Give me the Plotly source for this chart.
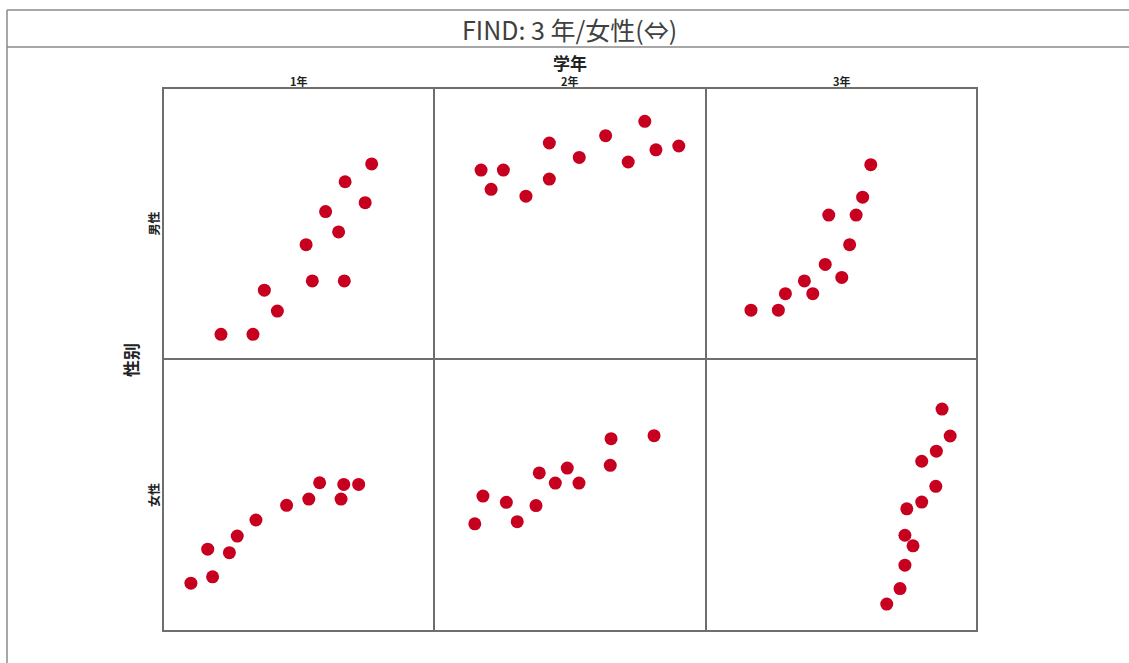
import plotly.graph_objects as go

# Facet grid: columns = 学年, rows = 性别
grades = ["1年", "2年", "3年"]
sexes = ["男性", "女性"]

# Points per facet (x, y on a 0-100 scale)
g1_male_x = [77.0, 67.2, 74.6, 60.0, 64.8, 52.8, 55.1, 66.9, 37.4, 42.2, 21.4, 33.2]
g1_male_y = [72.0, 65.4, 57.7, 54.4, 46.9, 42.2, 28.8, 28.8, 25.4, 17.7, 9.1, 9.1]

g2_male_x = [17.3, 25.5, 21.0, 33.8, 42.4, 42.4, 53.4, 63.1, 71.4, 77.5, 81.6, 90.0]
g2_male_y = [69.7, 69.7, 62.6, 60.1, 79.7, 66.4, 74.4, 82.4, 72.7, 87.7, 77.2, 78.6]

g3_male_x = [60.8, 57.8, 45.3, 55.4, 53.0, 44.0, 50.1, 36.3, 29.3, 39.4, 16.6, 26.7]
g3_male_y = [71.7, 59.7, 53.1, 53.1, 42.2, 34.9, 30.1, 28.8, 24.1, 24.1, 18.0, 18.0]

g1_female_x = [10.3, 18.3, 16.5, 24.5, 27.4, 34.3, 45.6, 53.8, 57.8, 65.7, 66.7, 72.2]
g1_female_y = [17.6, 19.9, 30.1, 28.8, 34.9, 40.8, 46.2, 48.5, 54.5, 48.5, 53.9, 53.9]

g2_female_x = [15.0, 18.0, 26.6, 30.6, 37.5, 38.7, 44.6, 49.0, 53.3, 64.8, 65.1, 80.9]
g2_female_y = [39.4, 49.6, 47.3, 40.2, 46.1, 58.1, 54.4, 59.9, 54.4, 60.9, 70.7, 71.8]

g3_female_x = [87.1, 90.1, 85.0, 79.6, 84.8, 79.6, 74.1, 73.4, 76.4, 73.4, 71.6, 66.7]
g3_female_y = [81.6, 71.7, 66.1, 62.4, 53.2, 47.4, 44.9, 35.2, 31.3, 24.2, 15.6, 9.9]

title_text = "FIND: 3 年/女性(⇔)"
col_title = "学年"
row_title = "性别"

W, H = 1129, 663
FONT = "Noto Sans CJK JP"
DOT = "#c8001f"
FRAME = "#6e6e6e"

# panel geometry in pixels
py_top, py_mid, py_bottom = 88, 359, 631
col_edges = [163, 434, 706, 977]


def fx(p):
    return p / W


def fy(p):
    return 1 - p / H


panels = [
    (0, 0, g1_male_x, g1_male_y),
    (0, 1, g2_male_x, g2_male_y),
    (0, 2, g3_male_x, g3_male_y),
    (1, 0, g1_female_x, g1_female_y),
    (1, 1, g2_female_x, g2_female_y),
    (1, 2, g3_female_x, g3_female_y),
]

fig = go.Figure()
layout = {}
for i, (r, c, xs, ys) in enumerate(panels):
    n = i + 1
    xa = "xaxis" if n == 1 else f"xaxis{n}"
    ya = "yaxis" if n == 1 else f"yaxis{n}"
    xref = "x" if n == 1 else f"x{n}"
    yref = "y" if n == 1 else f"y{n}"
    fig.add_trace(go.Scatter(
        x=xs, y=ys, mode="markers", xaxis=xref, yaxis=yref,
        marker=dict(color=DOT, size=13, line=dict(width=0)),
        showlegend=False, hoverinfo="skip",
    ))
    ax_style = dict(range=[0, 100], showgrid=False, zeroline=False,
                    showticklabels=False, ticks="", showline=False,
                    fixedrange=True)
    layout[xa] = dict(ax_style, domain=[fx(col_edges[c]), fx(col_edges[c + 1])], anchor=yref)
    ytop, ybot = (py_top, py_mid) if r == 0 else (py_mid, py_bottom)
    layout[ya] = dict(ax_style, domain=[fy(ybot), fy(ytop)], anchor=xref)

fig.update_layout(**layout)

annotations = []
# main title
annotations.append(dict(text=title_text, x=fx(569), y=fy(29), xref="paper", yref="paper",
                        showarrow=False, font=dict(family=FONT, size=25, color="#404040"),
                        xanchor="center", yanchor="middle"))
# column header
annotations.append(dict(text=f"<b>{col_title}</b>", x=fx(570), y=fy(62), xref="paper", yref="paper",
                        showarrow=False, font=dict(family=FONT, size=17, color="#222"),
                        xanchor="center", yanchor="middle"))
for c, g in enumerate(grades):
    cx = (col_edges[c] + col_edges[c + 1]) / 2
    annotations.append(dict(text=f"<b>{g}</b>", x=fx(cx), y=fy(81), xref="paper", yref="paper",
                            showarrow=False, font=dict(family=FONT, size=11, color="#222"),
                            xanchor="center", yanchor="middle"))
# row header
annotations.append(dict(text=f"<b>{row_title}</b>", x=fx(130), y=fy(360), xref="paper", yref="paper",
                        showarrow=False, textangle=-90,
                        font=dict(family=FONT, size=17, color="#222"),
                        xanchor="center", yanchor="middle"))
row_centers = [(py_top + py_mid) / 2, (py_mid + py_bottom) / 2]
for r, s in enumerate(sexes):
    annotations.append(dict(text=f"<b>{s}</b>", x=fx(153), y=fy(row_centers[r]), xref="paper", yref="paper",
                            showarrow=False, textangle=-90,
                            font=dict(family=FONT, size=12, color="#222"),
                            xanchor="center", yanchor="middle"))

band = dict(color="#8a8a8a", width=1.5)
frame = dict(color=FRAME, width=2)
shapes = [
    # title band
    dict(type="line", xref="paper", yref="paper", x0=fx(7), x1=1, y0=fy(10), y1=fy(10), line=band),
    dict(type="line", xref="paper", yref="paper", x0=fx(7), x1=1, y0=fy(47), y1=fy(47), line=band),
    dict(type="line", xref="paper", yref="paper", x0=fx(7), x1=fx(7), y0=fy(10), y1=0, line=band),
    # facet grid frame
    dict(type="rect", xref="paper", yref="paper", x0=fx(col_edges[0]), x1=fx(col_edges[-1]),
         y0=fy(py_bottom), y1=fy(py_top), line=frame),
    dict(type="line", xref="paper", yref="paper", x0=fx(col_edges[0]), x1=fx(col_edges[-1]),
         y0=fy(py_mid), y1=fy(py_mid), line=frame),
]
for e in col_edges[1:-1]:
    shapes.append(dict(type="line", xref="paper", yref="paper", x0=fx(e), x1=fx(e),
                       y0=fy(py_bottom), y1=fy(py_top), line=frame))

fig.update_layout(
    width=W, height=H,
    margin=dict(l=0, r=0, t=0, b=0),
    paper_bgcolor="white", plot_bgcolor="white",
    annotations=annotations, shapes=shapes,
    showlegend=False,
)

fig.write_html("out.html")
